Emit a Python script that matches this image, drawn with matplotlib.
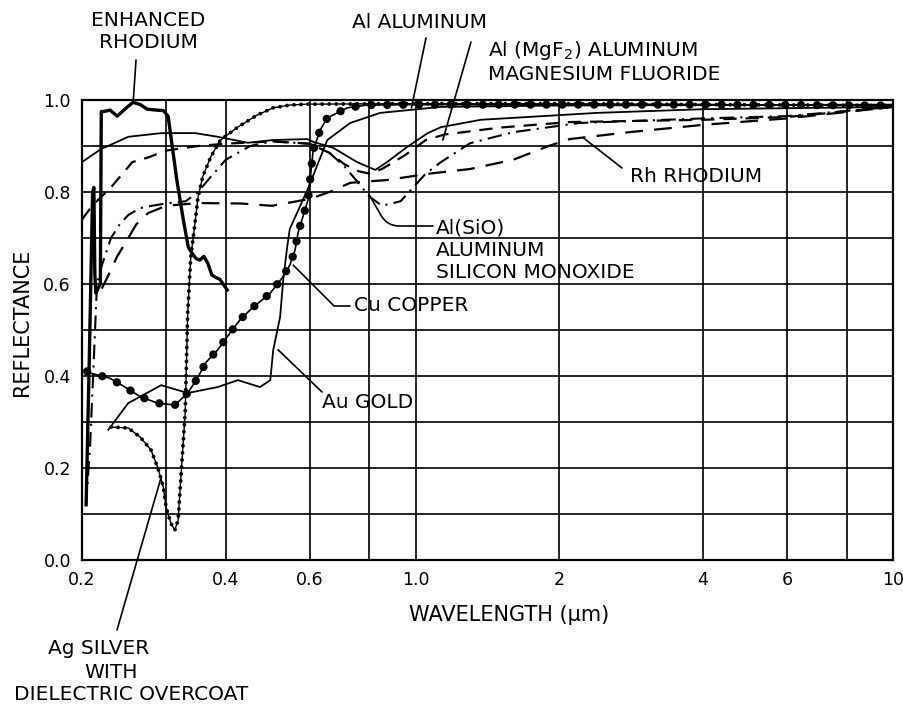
import numpy as np
import matplotlib.pyplot as plt

plt.rcParams['font.family'] = ['DejaVu Sans']

# ===== DATOS (longitud de onda en um, reflectancia) =====
wl_enh = [0.204, 0.207, 0.2105, 0.2118, 0.2128, 0.2138, 0.216, 0.2185, 0.2195, 0.222, 0.229,
          0.237, 0.249, 0.256, 0.265, 0.274, 0.287, 0.296, 0.303, 0.309, 0.316, 0.326, 0.334,
          0.34, 0.347, 0.353, 0.36, 0.367, 0.374, 0.38, 0.389, 0.403]
r_enh = [0.12, 0.42, 0.80, 0.81, 0.62, 0.58, 0.59, 0.60, 0.975, 0.975, 0.978,
         0.965, 0.985, 0.995, 0.99, 0.98, 0.978, 0.977, 0.965, 0.90, 0.826, 0.74, 0.68,
         0.667, 0.655, 0.652, 0.66, 0.645, 0.62, 0.615, 0.61, 0.587]

wl_al = [0.2, 0.219, 0.25, 0.293, 0.345, 0.385, 0.445, 0.503, 0.593, 0.61, 0.672, 0.754,
         0.823, 0.871, 0.96, 1.06, 1.13, 1.37, 2.4, 4.0, 10.0]
r_al = [0.865, 0.893, 0.92, 0.928, 0.928, 0.92, 0.907, 0.913, 0.915, 0.909, 0.896, 0.865,
        0.848, 0.865, 0.898, 0.928, 0.941, 0.957, 0.972, 0.98, 0.985]

wl_mgf2 = [0.2, 0.21, 0.23, 0.255, 0.275, 0.3, 0.35, 0.4, 0.5, 0.6, 0.66, 0.71, 0.76, 0.8,
           0.85, 0.95, 1.05, 1.15, 1.5, 2.1, 4.0, 6.0, 10.0]
r_mgf2 = [0.74, 0.77, 0.81, 0.865, 0.875, 0.89, 0.9, 0.905, 0.91, 0.905, 0.885, 0.86, 0.845,
          0.84, 0.85, 0.88, 0.913, 0.925, 0.94, 0.952, 0.957, 0.963, 0.985]

wl_sio = [0.204, 0.208, 0.212, 0.215, 0.22, 0.23, 0.24, 0.25, 0.265, 0.28, 0.3, 0.33, 0.35,
          0.37, 0.4, 0.45, 0.5, 0.6, 0.66, 0.71, 0.75, 0.8, 0.85, 0.93, 1.05, 1.13, 1.3, 1.6,
          2.2, 4.0, 6.0, 10.0]
r_sio = [0.12, 0.25, 0.45, 0.6, 0.64, 0.7, 0.73, 0.75, 0.765, 0.77, 0.775, 0.78, 0.8,
         0.83, 0.87, 0.9, 0.91, 0.905, 0.885, 0.855, 0.826, 0.79, 0.77, 0.78, 0.84, 0.865,
         0.906, 0.93, 0.95, 0.96, 0.965, 0.985]

wl_rh = [0.22, 0.225, 0.237, 0.25, 0.26, 0.275, 0.3, 0.35, 0.43, 0.5, 0.6, 0.66, 0.73, 0.87,
         1.07, 1.3, 1.6, 1.9, 2.1, 2.8, 4.0, 6.0, 10.0]
r_rh = [0.59, 0.61, 0.66, 0.70, 0.73, 0.754, 0.77, 0.776, 0.775, 0.77, 0.785, 0.80, 0.82,
        0.826, 0.84, 0.85, 0.87, 0.9, 0.915, 0.93, 0.946, 0.96, 0.985]

wl_au = [0.227, 0.25, 0.293, 0.333, 0.385, 0.424, 0.472, 0.496, 0.503, 0.52, 0.528, 0.538,
         0.545, 0.593, 0.653, 0.729, 0.843, 1.13, 2.0, 10.0]
r_au = [0.283, 0.341, 0.38, 0.363, 0.376, 0.391, 0.376, 0.391, 0.456, 0.528, 0.61, 0.68,
        0.72, 0.804, 0.913, 0.95, 0.972, 0.985, 0.988, 0.99]

wl_cu = [0.205, 0.209, 0.229, 0.246, 0.265, 0.288, 0.313, 0.333, 0.347, 0.364, 0.385, 0.408,
         0.43, 0.457, 0.496, 0.525, 0.545, 0.559, 0.567, 0.595, 0.61, 0.631, 0.653, 0.719,
         0.79, 1.0, 2.0, 4.0, 10.0]
r_cu = [0.41, 0.406, 0.395, 0.376, 0.355, 0.341, 0.337, 0.363, 0.391, 0.43, 0.457, 0.493,
        0.524, 0.55, 0.58, 0.613, 0.641, 0.674, 0.711, 0.783, 0.891, 0.935, 0.961, 0.983,
        0.989, 0.99, 0.99, 0.99, 0.988]

wl_ag = [0.23, 0.25, 0.265, 0.279, 0.288, 0.296, 0.3, 0.307, 0.313, 0.318, 0.322, 0.329,
         0.333, 0.338, 0.345, 0.35, 0.358, 0.372, 0.39, 0.424, 0.465, 0.503, 0.545, 0.593,
         1.0, 2.0, 4.0, 10.0]
r_ag = [0.289, 0.287, 0.267, 0.239, 0.202, 0.159, 0.115, 0.08, 0.065, 0.087, 0.174, 0.32,
        0.537, 0.659, 0.733, 0.789, 0.833, 0.876, 0.913, 0.941, 0.967, 0.983, 0.989, 0.991,
        0.992, 0.992, 0.99, 0.988]

xtick_vals = [0.2, 0.3, 0.4, 0.6, 0.8, 1.0, 2, 4, 6, 8, 10]
xtick_labels = ['0.2', '', '0.4', '0.6', '', '1.0', '2', '4', '6', '', '10']
ytick_vals = [0.0, 0.1, 0.2, 0.3, 0.4, 0.5, 0.6, 0.7, 0.8, 0.9, 1.0]
ytick_labels = ['0.0', '', '0.2', '', '0.4', '', '0.6', '', '0.8', '', '1.0']

# ===== FIGURA =====
W, H = 904, 704
fig = plt.figure(figsize=(W / 100, H / 100), dpi=100)
ax = fig.add_axes([82 / W, 144 / H, 811 / W, 460 / H])
ax.set_xscale('log')
ax.set_xlim(0.2, 10)
ax.set_ylim(0, 1.0)
ax.set_xticks(xtick_vals)
ax.set_xticklabels(xtick_labels, fontsize=12.5)
ax.xaxis.set_minor_locator(plt.NullLocator())
ax.set_yticks(ytick_vals)
ax.set_yticklabels(ytick_labels, fontsize=12.5)
ax.tick_params(length=0, pad=8)
ax.grid(True, color='k', lw=1.2)
ax.set_axisbelow(True)
for s in ax.spines.values():
    s.set_linewidth(1.6)

k = 'black'
ax.plot(wl_enh, r_enh, color=k, lw=2.4)
ax.plot(wl_al, r_al, color=k, lw=1.3)
ax.plot(wl_au, r_au, color=k, lw=1.3)
ax.plot(wl_mgf2, r_mgf2, color=k, lw=1.6, linestyle=(0, (6, 4)))
ax.plot(wl_rh, r_rh, color=k, lw=1.6, linestyle=(0, (8, 5)))
ax.plot(wl_sio, r_sio, color=k, lw=1.5, linestyle=(0, (7, 3, 1, 3)))
ax.plot(wl_cu, r_cu, color=k, lw=1.2)
ax.plot(wl_cu, r_cu, color=k, lw=6, linestyle=(0, (0.01, 1.9)), dash_capstyle='round')
ax.plot(wl_ag, r_ag, color=k, lw=1.0)
ax.plot(wl_ag, r_ag, color=k, lw=2.8, linestyle=(0, (0.01, 1.8)), dash_capstyle='round')

# ===== ETIQUETAS =====
fs = 14.5
def etiqueta(txt, px, py, ha='left', va='center'):
    fig.text(px / W, 1 - py / H, txt, fontsize=fs, ha=ha, va=va, linespacing=1.2)

def puntero(xy, px, py, conn='arc3'):
    ax.annotate('', xy=xy, xycoords='data', xytext=(px, H - py), textcoords='figure pixels',
                arrowprops=dict(arrowstyle='-', color=k, lw=1.2, shrinkA=0, shrinkB=0,
                                connectionstyle=conn),
                annotation_clip=False)

etiqueta('ENHANCED\nRHODIUM', 148, 31, ha='center')
puntero((0.256, 0.995), 136, 60)

etiqueta('Al ALUMINUM', 352, 22)
puntero((0.98, 0.983), 426, 38)

etiqueta('Al (MgF$_2$) ALUMINUM\nMAGNESIUM FLUORIDE', 488, 61)
puntero((1.14, 0.913), 471, 42)

etiqueta('Rh RHODIUM', 630, 176)
puntero((2.25, 0.917), 622, 168)

etiqueta('Al(SiO)\nALUMINUM\nSILICON MONOXIDE', 436, 250)
puntero((0.8, 0.793), 433, 226, conn='angle,angleA=0,angleB=-60,rad=12')

etiqueta('Cu COPPER', 354, 306)
puntero((0.554, 0.641), 350, 306, conn='angle,angleA=0,angleB=-45,rad=0')

etiqueta('Au GOLD', 322, 402)
puntero((0.515, 0.457), 322, 392)

etiqueta('Ag SILVER', 48, 648)
etiqueta('WITH', 84, 672)
etiqueta('DIELECTRIC OVERCOAT', 14, 695)
puntero((0.293, 0.18), 117, 630)

fig.text(22 / W, 1 - 322 / H, 'REFLECTANCE', rotation=90, fontsize=15, ha='center', va='center')
fig.text(509 / W, 1 - 615 / H, 'WAVELENGTH (\u03bcm)', fontsize=15, ha='center', va='center')

fig.savefig('out.png', dpi=100)
